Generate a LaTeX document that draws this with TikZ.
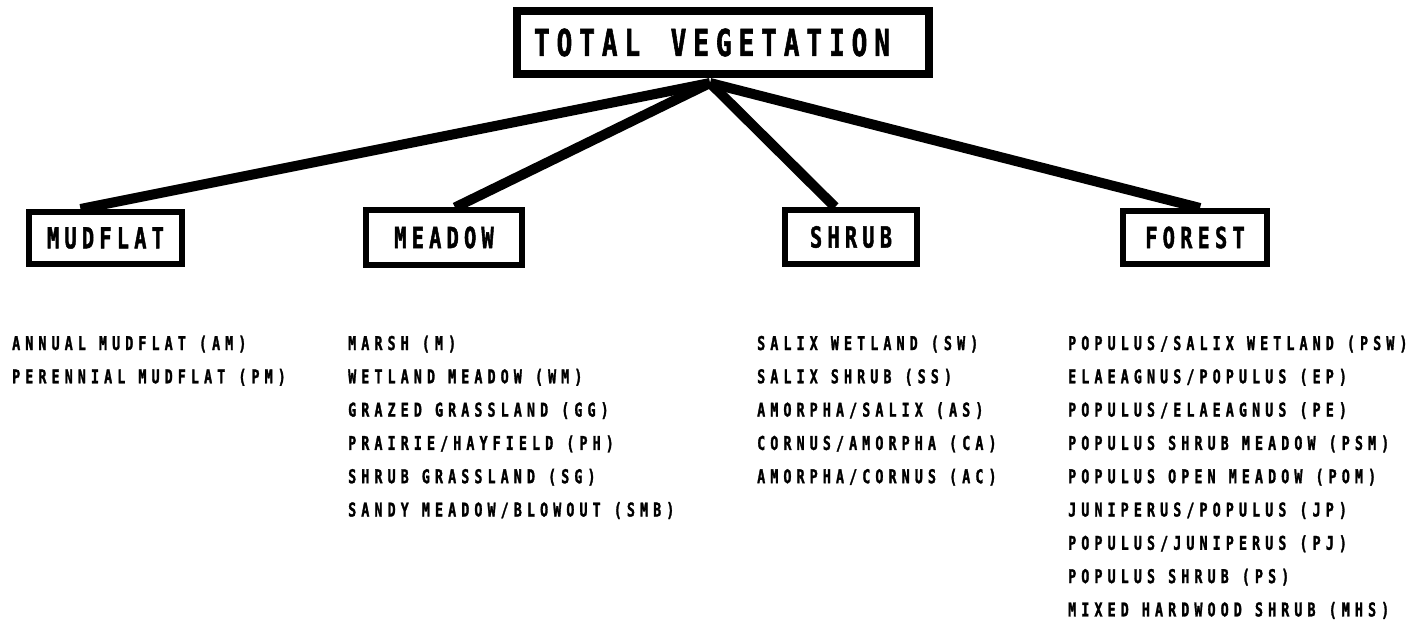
\documentclass[tikz,border=0pt]{standalone}
\usepackage{fontspec}
\newfontfamily\itemfont{DejaVu Sans Mono}[FakeStretch=0.7,LetterSpace=27,FakeBold=1.5]
\newfontfamily\boxfont{DejaVu Sans Mono}[FakeStretch=0.7,LetterSpace=18,FakeBold=1.5]
\newfontfamily\topfont{DejaVu Sans Mono}[FakeStretch=0.7,LetterSpace=19,FakeBold=1.5]
\begin{document}
\begin{tikzpicture}[x=1pt,y=-1pt]
\tikzset{
  cat/.style={draw=black, line width=6pt, inner sep=0pt,
    font={\boxfont\bfseries\fontsize{29}{32}\selectfont}},
  top/.style={draw=black, line width=8pt, inner sep=0pt,
    minimum width=412pt, minimum height=63pt,
    font={\topfont\bfseries\fontsize{37}{40}\selectfont}},
  conn/.style={draw=black, line width=10pt},
  item/.style={anchor=base west, inner sep=0pt,
    font={\itemfont\bfseries\fontsize{19}{22}\selectfont}}
}
\useasboundingbox[fill=white] (0,0) rectangle (1420,620);

\node[top] (tv) at (723,42.5) {TOTAL\hspace{8pt} VEGETATION\rule{22pt}{0pt}};

\node[cat, minimum width=153pt, minimum height=52pt] (mud) at (105.5,238) {MUDFLAT};
\node[cat, minimum width=156pt, minimum height=54pt] (mea) at (444,237.5) {MEADOW};
\node[cat, minimum width=132pt, minimum height=54pt] (shr) at (851,237) {SHRUB};
\node[cat, minimum width=144pt, minimum height=53pt] (for) at (1195,237.5) {FOREST};

\coordinate (hub) at ([xshift=-13pt,yshift=-5pt]tv.south);
\draw[conn] (hub) -- ([xshift=-25pt]mud.north);
\draw[conn] (hub) -- ([xshift=11pt]mea.north);
\draw[conn] (hub) -- ([xshift=-16pt]shr.north);
\draw[conn] (hub) -- ([xshift=5pt]for.north);

\foreach \t [count=\i] in {ANNUAL MUDFLAT (AM), PERENNIAL MUDFLAT (PM)}
  \node[item] (mudi\i) at (12, 350+33.3*\i-33.3) {\t};

\foreach \t [count=\i] in {MARSH (M), WETLAND MEADOW (WM), GRAZED GRASSLAND (GG),
    PRAIRIE/HAYFIELD (PH), SHRUB GRASSLAND (SG), SANDY MEADOW/BLOWOUT (SMB)}
  \node[item] (meai\i) at (348, 350+33.3*\i-33.3) {\t};

\foreach \t [count=\i] in {SALIX WETLAND (SW), SALIX SHRUB (SS), AMORPHA/SALIX (AS),
    CORNUS/AMORPHA (CA), AMORPHA/CORNUS (AC)}
  \node[item] (shri\i) at (757, 350+33.3*\i-33.3) {\t};

\foreach \t [count=\i] in {POPULUS/SALIX WETLAND (PSW), ELAEAGNUS/POPULUS (EP),
    POPULUS/ELAEAGNUS (PE), POPULUS SHRUB MEADOW (PSM), POPULUS OPEN MEADOW (POM),
    JUNIPERUS/POPULUS (JP), POPULUS/JUNIPERUS (PJ), POPULUS SHRUB (PS),
    MIXED HARDWOOD SHRUB (MHS)}
  \node[item] (fori\i) at (1068, 350+33.3*\i-33.3) {\t};
\end{tikzpicture}
\end{document}
